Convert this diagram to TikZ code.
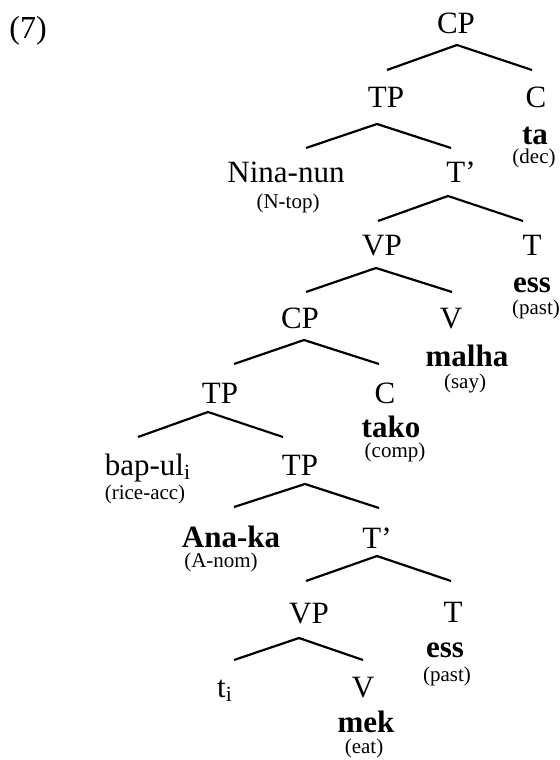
\documentclass[tikz,border=0pt]{standalone}
\usepackage{fontspec}
\setmainfont{Liberation Serif}
\usepackage{tikz}
\usetikzlibrary{calc}

\begin{document}
\begin{tikzpicture}[x=0.5pt, y=-0.5pt,
    cat/.style={anchor=base, inner sep=0pt, font=\fontsize{15.5}{18}\selectfont},
    word/.style={cat, font=\fontsize{15.5}{18}\selectfont\bfseries},
    gloss/.style={anchor=base, inner sep=0pt, font=\fontsize{10.5}{12}\selectfont},
    branch/.style={line width=1.1pt},
]
    \useasboundingbox (0,0) rectangle (559,760);

    % Example number
    \node[anchor=base west, inner sep=0pt, font=\fontsize{16}{19}\selectfont] (exnum) at (9,38) {(7)};

    % Matrix clause
    \node[cat] (cp) at (456,33) {CP};
    \node[cat] (tp1) at (386,107) {TP};
    \node[cat] (c1) at (536,107) {C};
    \node[word] (ta) at (535,144) {ta};
    \node[gloss] (dec) at (534,163) {(dec)};
    \node[cat] (nina) at (286,182) {Nina-nun};
    \node[gloss] (ntop) at (288,208) {(N-top)};
    \node[cat] (tbar1) at (461,182) {T'};
    \node[cat] (vp1) at (382,255) {VP};
    \node[cat] (t1) at (532,255) {T};
    \node[word] (ess1) at (532,292) {ess};
    \node[gloss] (past1) at (536,314) {(past)};
    \node[cat] (v1) at (451,328) {V};
    \node[word] (malha) at (467,366) {malha};
    \node[gloss] (say) at (465,388) {(say)};

    % Embedded clause
    \node[cat] (cp2) at (300,328) {CP};
    \node[cat] (tp2) at (220,403) {TP};
    \node[cat] (c2) at (385,403) {C};
    \node[word] (tako) at (391,437) {tako};
    \node[gloss] (comp) at (395,457) {(comp)};
    \node[cat] (bap) at (148,475) {bap-ul\textsubscript{i}};
    \node[gloss] (rice) at (145,499) {(rice-acc)};
    \node[cat] (tp3) at (300,475) {TP};
    \node[word] (anaka) at (231,547) {Ana-ka};
    \node[gloss] (anom) at (221,567) {(A-nom)};
    \node[cat] (tbar2) at (377,548) {T'};
    \node[cat] (vp2) at (309,623) {VP};
    \node[cat] (t2) at (453,622) {T};
    \node[word] (ess2) at (445,657) {ess};
    \node[gloss] (past2) at (447,681) {(past)};
    \node[cat] (ti) at (225,697) {t\textsubscript{i}};
    \node[cat] (v2) at (363,697) {V};
    \node[word] (mek) at (366,732) {mek};
    \node[gloss] (eat) at (364,753) {(eat)};

    % Branches
    \draw[branch] ($(tp1.base)+(1,-37)$) -- ($(cp.base)+(1,12)$) -- ($(c1.base)+(-4,-37)$);
    \draw[branch] ($(nina.base)+(20,-34)$) -- ($(tp1.base)+(-9,17)$) -- ($(tbar1.base)+(-10,-34)$);
    \draw[branch] ($(vp1.base)+(-4,-34)$) -- ($(tbar1.base)+(-13,14)$) -- ($(t1.base)+(-9,-34)$);
    \draw[branch] ($(cp2.base)+(6,-36)$) -- ($(vp1.base)+(-6,13)$) -- ($(v1.base)+(1,-36)$);
    \draw[branch] ($(tp2.base)+(14,-39)$) -- ($(cp2.base)+(4,12)$) -- ($(c2.base)+(-6,-39)$);
    \draw[branch] ($(bap.base)+(-10,-38)$) -- ($(tp2.base)+(-12,9)$) -- ($(tp3.base)+(-17,-38)$);
    \draw[branch] ($(anaka.base)+(3,-40)$) -- ($(tp3.base)+(5,9)$) -- ($(tbar2.base)+(2,-40)$);
    \draw[branch] ($(vp2.base)+(-3,-42)$) -- ($(tbar2.base)+(0,8)$) -- ($(t2.base)+(-2,-41)$);
    \draw[branch] ($(ti.base)+(9,-37)$) -- ($(vp2.base)+(-10,15)$) -- ($(v2.base)+(0,-37)$);
\end{tikzpicture}
\end{document}
